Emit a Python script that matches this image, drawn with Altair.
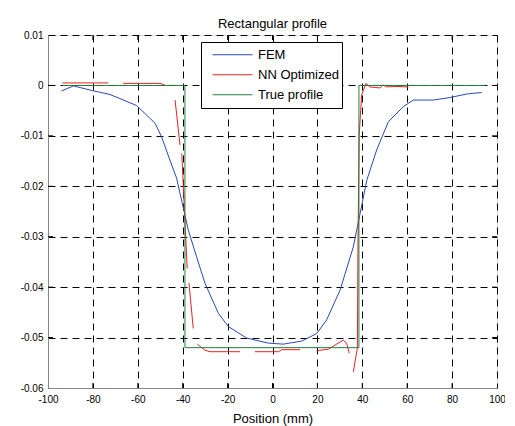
import altair as alt
import pandas as pd

# ---- data ----
fem_x = [-94, -88.7, -80, -72.4, -68, -60.5, -52.3, -49.4, -45.7, -42.7, -37.5, -33.8, -30.1,
         -24.1, -19.7, -11.5, -1.9, 4.8, 13.0, 19.7, 24.1, 30.1, 36.0, 37.5, 42.0, 46.4,
         51.6, 58.3, 62.7, 71.6, 79.1, 86.5, 93.2]
fem_y = [-0.0011, -0.0001, -0.00105, -0.0018, -0.0026, -0.004, -0.0075, -0.0102, -0.0148,
         -0.0184, -0.0287, -0.034, -0.0392, -0.0452, -0.0478, -0.0501, -0.0511, -0.0513,
         -0.0507, -0.0492, -0.0465, -0.0406, -0.032, -0.0287, -0.0188, -0.0128, -0.0072,
         -0.0042, -0.0029, -0.0029, -0.0024, -0.0017, -0.0014]

nn_x = [-93.6, -73.1,
        -66.5, -50.1, -47.9,
        -43.4, -41.2,
        -40.4, -39.2, -38.0,
        -37.2, -35.3,
        -33.5, -30.1, -27.8, -14.5,
        -7.8, 2.7, 4.1, 12.3,
        19.7, 24.9, 31.5, 33.0, 34.2,
        36.0, 37.8, 38.1, 38.6, 39.7, 41.6, 43.4, 47.9, 49.1, 50.9, 55.0, 60.5]
nn_y = [0.0005, 0.0005,
        0.0004, 0.0004, 0.0001,
        -0.0029, -0.0118,
        -0.0135, -0.025, -0.0363,
        -0.0392, -0.0482,
        -0.0513, -0.0525, -0.0528, -0.0528,
        -0.0528, -0.0528, -0.0524, -0.0524,
        -0.0526, -0.0523, -0.0505, -0.0511, -0.0531,
        -0.0568, -0.0521, -0.03, -0.01, -0.0019, 0.0004, -0.0003, -0.0005, 0.0001, -0.0003,
        -0.0002, -0.0003]
nn_seg = [1, 1,
          2, 2, 2,
          3, 3,
          4, 4, 4,
          5, 5,
          6, 6, 6, 6,
          7, 7, 7, 7,
          8, 8, 8, 8, 8,
          9, 9, 9, 9, 9, 9, 9, 9, 9, 9, 9, 9]

true_x = [-93.5, -39, -39, 38.5, 38.5, 94.7]
true_y = [0, 0, -0.052, -0.052, 0, 0]

series = ["FEM", "NN Optimized", "True profile"]
colors = ["#2a48b8", "#ee2020", "#1f8040"]

x_ticks = [-80, -60, -40, -20, 0, 20, 40, 60, 80]
y_ticks = [-0.05, -0.04, -0.03, -0.02, -0.01, 0]

rows = []
for i, (a, b) in enumerate(zip(fem_x, fem_y)):
    rows.append({"x": a, "y": b, "series": "FEM", "seg": 0, "i": i})
for i, (a, b, s) in enumerate(zip(nn_x, nn_y, nn_seg)):
    rows.append({"x": a, "y": b, "series": "NN Optimized", "seg": s, "i": i})
for i, (a, b) in enumerate(zip(true_x, true_y)):
    rows.append({"x": a, "y": b, "series": "True profile", "seg": 0, "i": i})
df = pd.DataFrame(rows)

W, H = 449, 353
FONT = "Liberation Sans"
FS = 13

xscale = alt.Scale(domain=[-100, 100], nice=False, zero=False)
yscale = alt.Scale(domain=[-0.06, 0.01], nice=False, zero=False)
cscale = alt.Scale(domain=series, range=colors)

lab = "replace(format(datum.value, '~g'), '\u2212', '-')"

xaxis = alt.Axis(values=[-100] + x_ticks + [100], title="Position (mm)", ticks=False,
                 labelFlush=False, labelPadding=6, labelExpr=lab, gridDash=[7, 5],
                 gridColor="black", gridOpacity=1, titlePadding=8,
                 titleFontWeight="normal", titleFont=FONT, titleFontSize=FS,
                 titleColor="black")
yaxis = alt.Axis(values=[-0.06] + y_ticks + [0.01], title=None, ticks=False,
                 labelFlush=False, labelPadding=5, labelExpr=lab, gridDash=[7, 5],
                 gridColor="black", gridOpacity=1)

legend = alt.Legend(orient="none", legendX=153, legendY=7, title=None,
                    fillColor="white", strokeColor="black", padding=3,
                    symbolType="stroke", symbolSize=1600, symbolStrokeWidth=1,
                    symbolOffset=8, clipHeight=19.5, rowPadding=0,
                    labelFontSize=FS, labelFont=FONT, labelColor="black",
                    labelOffset=5)

lines = alt.Chart(df).mark_line(strokeWidth=1, clip=True).encode(
    x=alt.X("x:Q", scale=xscale, axis=xaxis),
    y=alt.Y("y:Q", scale=yscale, axis=yaxis),
    color=alt.Color("series:N", scale=cscale, legend=legend),
    detail="seg:N",
    order="i:Q",
)

xt = pd.DataFrame({"t": x_ticks})
yt = pd.DataFrame({"t": y_ticks})
tick_bot = alt.Chart(xt).mark_rule(color="black").encode(
    x=alt.X("t:Q", scale=xscale), y=alt.value(H), y2=alt.value(H - 5))
tick_top = alt.Chart(xt).mark_rule(color="black").encode(
    x=alt.X("t:Q", scale=xscale), y=alt.value(0), y2=alt.value(5))
tick_left = alt.Chart(yt).mark_rule(color="black").encode(
    y=alt.Y("t:Q", scale=yscale), x=alt.value(0), x2=alt.value(5))
tick_right = alt.Chart(yt).mark_rule(color="black").encode(
    y=alt.Y("t:Q", scale=yscale), x=alt.value(W), x2=alt.value(W - 5))

chart = alt.layer(tick_bot, tick_top, tick_left, tick_right, lines).properties(
    width=W, height=H,
    title=alt.TitleParams("Rectangular profile", fontSize=FS, font=FONT,
                          fontWeight="normal", color="black", offset=-1),
    autosize=alt.AutoSizeParams(type="none"),
    padding={"left": 40, "top": 27, "right": 8, "bottom": 38},
).configure_view(stroke="black", strokeWidth=1).configure_axis(
    labelFont=FONT, labelFontSize=FS, labelColor="black", titleFont=FONT,
    titleFontSize=FS, titleFontWeight="normal", titleColor="black",
    domainColor="black",
).configure(background="white")

chart.save("out.html", embed_options={"renderer": "svg", "actions": False})
